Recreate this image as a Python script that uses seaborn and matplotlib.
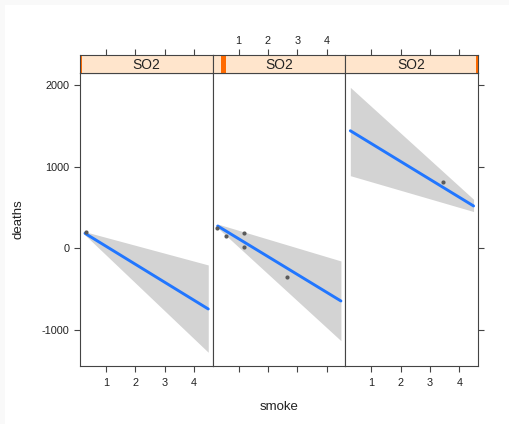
import matplotlib
matplotlib.use("Agg")
import matplotlib.pyplot as plt
from matplotlib.patches import Rectangle
import numpy as np
import pandas as pd
import seaborn as sns

# ---- data -------------------------------------------------------------
panel_titles = ["SO2", "SO2", "SO2"]

# observed (smoke, deaths) pairs and the panel each belongs to
obs_panel = [0, 1, 1, 1, 1, 1, 2]
obs_smoke = [0.33, 0.27, 0.58, 1.20, 1.20, 2.65, 3.45]
obs_deaths = [196, 245, 154, 183, 20, -347, 808]

# linear fit per panel, evaluated at the ends of the smoke range
fit_smoke = [0.29, 4.48]
fit_deaths = [[183, -743], [273, -645], [1439, 518]]
band_lower = [[163, -1273], [250, -1131], [889, 450]]
band_upper = [[203, -204], [297, -155], [1970, 600]]

# shingle interval of each panel, as a fraction of the full SO2 range
level_span = [(0.0, 0.012), (0.065, 0.098), (0.988, 1.0)]

x_ticks = [1, 2, 3, 4]
y_ticks = [-1000, 0, 1000, 2000]
x_range = (0.12, 4.63)
y_range = (-1441, 2146)

obs = pd.DataFrame({"panel": obs_panel, "smoke": obs_smoke, "deaths": obs_deaths})
fits = pd.DataFrame({
    "panel": np.repeat(range(3), len(fit_smoke)),
    "smoke": fit_smoke * 3,
    "deaths": np.ravel(fit_deaths),
    "lower": np.ravel(band_lower),
    "upper": np.ravel(band_upper),
})

# ---- style --------------------------------------------------------------
sns.set_theme(style="white")
plt.rcParams["font.family"] = ["Liberation Sans", "DejaVu Sans"]
plt.rcParams["axes.unicode_minus"] = False

W, H = 509, 424
fig = plt.figure(figsize=(W / 100, H / 100), dpi=100)
fig.patch.set_facecolor("white")
# light margin along the top and left edges
fig.add_artist(Rectangle((0, 0), 5 / W, 1, transform=fig.transFigure,
                         facecolor="#f9f9f9", edgecolor="none", zorder=-5))
fig.add_artist(Rectangle((0, 1 - 5 / H), 1, 5 / H, transform=fig.transFigure,
                         facecolor="#f9f9f9", edgecolor="none", zorder=-5))

frame_col = "#444444"
line_col = "#2176ff"
band_col = "#d3d3d3"
strip_col = "#ffe5cc"
level_col = "#ff6a00"

x0, x1 = 80, 478
panel_w = (x1 - x0) / 3
py_top, py_bot = 73, 366
strip_top = 55

tick_kw = dict(direction="out", length=4.5, width=0.8, color=frame_col,
               labelsize=7.8, labelcolor="#222222")

for i in range(3):
    left = (x0 + i * panel_w) / W
    ax = fig.add_axes([left, 1 - py_bot / H, panel_w / W, (py_bot - py_top) / H])
    sax = fig.add_axes([left, 1 - py_top / H, panel_w / W, (py_top - strip_top) / H])

    f = fits[fits.panel == i]
    ax.fill_between(f.smoke, f.lower, f.upper, color=band_col, lw=0, zorder=1)
    sns.lineplot(data=f, x="smoke", y="deaths", ax=ax, color=line_col,
                 lw=2.1, estimator=None, zorder=3)
    sns.scatterplot(data=obs[obs.panel == i], x="smoke", y="deaths", ax=ax,
                    color="#5a5a5a", s=9, linewidth=0, zorder=4)

    ax.set_xlim(x_range)
    ax.set_ylim(y_range)
    ax.set_xlabel("")
    ax.set_ylabel("")
    ax.set_xticks(x_ticks)
    ax.set_yticks(y_ticks)
    ax.tick_params(**tick_kw)
    ax.tick_params(axis="x", pad=4)
    ax.tick_params(axis="y", pad=3)
    for sp in ax.spines.values():
        sp.set_color(frame_col)
        sp.set_linewidth(0.8)

    # y axis: labelled on the left panel, bare ticks on the right panel
    if i == 0:
        ax.yaxis.set_ticks_position("left")
    elif i == 2:
        ax.yaxis.set_ticks_position("right")
        ax.tick_params(axis="y", labelright=False)
    else:
        ax.tick_params(axis="y", left=False, right=False,
                       labelleft=False, labelright=False)
    # x axis: labels alternate between bottom and top
    ax.xaxis.set_ticks_position("bottom")
    if i == 1:
        ax.tick_params(axis="x", labelbottom=False)

    # strip with the panel's shingle level
    sax.set_facecolor(strip_col)
    sax.set_xlim(x_range)
    sax.set_ylim(0, 1)
    sax.set_yticks([])
    sax.xaxis.tick_top()
    sax.set_xticks(x_ticks)
    sax.tick_params(**tick_kw)
    sax.tick_params(axis="x", pad=2)
    if i != 1:
        sax.tick_params(axis="x", labeltop=False)
    for sp in sax.spines.values():
        sp.set_color(frame_col)
        sp.set_linewidth(0.8)
    a, b = level_span[i]
    sax.add_patch(Rectangle((a, 0), max(b - a, 0.01), 1, transform=sax.transAxes,
                            facecolor=level_col, edgecolor="none", zorder=1))
    sax.text(0.5, 0.45, panel_titles[i], transform=sax.transAxes,
             ha="center", va="center", fontsize=10, color="#222222", zorder=2)

fig.text((x0 + x1) / 2 / W, 1 - 407 / H, "smoke", ha="center", va="center",
         fontsize=9.5, color="#222222")
fig.text(18 / W, 1 - 219 / H, "deaths", ha="center", va="center",
         rotation=90, fontsize=9.5, color="#222222")

fig.savefig("out.png", dpi=100)
